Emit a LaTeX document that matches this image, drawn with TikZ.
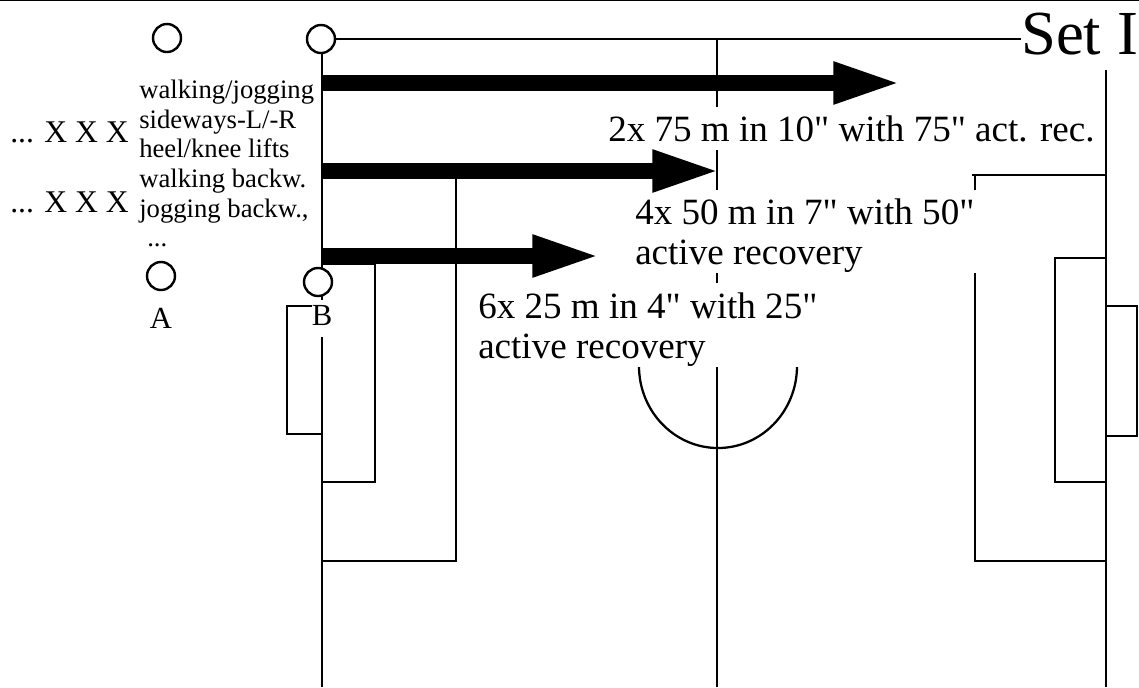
\documentclass[tikz,border=0pt]{standalone}
\usepackage{fontspec}
\setmainfont{Liberation Serif}[Ligatures=TeXOff]
\usetikzlibrary{arrows.meta}

\newcommand{\lift}[1]{\rule{0pt}{#1}}

\tikzset{
	pitch/.style={line width=1.7pt},
	cone/.style={draw, circle, line width=1.8pt, fill=white, minimum size=21pt, inner sep=0},
	run/.style={line width=12pt, -{Triangle[length=51.5pt, width=28.5pt]}},
	big/.style={fill=white, inner sep=0, align=left, anchor=north west, font=\fontsize{27.8}{30}\selectfont},
	small/.style={inner sep=0, align=left, anchor=north west, font=\fontsize{20}{22.2}\selectfont},
	rows/.style={inner sep=0, anchor=base west, font=\fontsize{23.7}{26}\selectfont}
}

\begin{document}
\begin{tikzpicture}[x=.75pt,y=-.75pt]
		\useasboundingbox (0,0) rectangle (1139,687);
		\draw [pitch] (0,0) -- (1139,0);

		% left half
		\begin{scope}
			\draw [pitch] (322,40) -- (322,687);
			\draw [pitch] (322,171) -| (456,561) -- (322,561);
			\draw [pitch] (322,264) -| (375,482) -- (322,482);
			\draw [pitch] (322,306) -| (287,434) -- (322,434);
		\end{scope}

		% centre line and right half
		\begin{scope}
			\draw [pitch] (717,40) -- (717,687);
			\draw [pitch] (639,366) arc [start angle=180, end angle=0, x radius=79, y radius=82];
			\draw [pitch] (1106,70) -- (1106,687);
			\draw [pitch] (1106,175) -- (972,175);
			\draw [pitch] (975,175) -- (975,561) -- (1106,561);
			\draw [pitch] (1106,258) -| (1055,482) -- (1106,482);
			\draw [pitch] (1106,306) -| (1137,436) -- (1106,436);
		\end{scope}

		% cones
		\node [cone] (cA1) at (167,38) {};
		\node [cone] (cB1) at (321,39) {};
		\node [cone] (cA2) at (161,276) {};
		\node [cone] (cB2) at (318,282) {};
		\node [inner sep=0, font=\fontsize{23}{25}\selectfont] (lA) at (161,318) {A};
		\node [fill=white, inner sep=0, anchor=base, minimum width=15pt, text height=18.75pt, text depth=9pt, font=\fontsize{23}{25}\selectfont] (lB) at (322,325) {B};

		\node [inner sep=0, anchor=base west, font=\fontsize{47}{50}\selectfont] (setI) at (1021,54) {Set I};
		\draw [pitch] (cB1) -- (setI.west |- cB1);

		% labels
		\node [big, minimum height=32pt] (t75) at (608,107) {2x 75 m in 10" with 75" act. rec.};
		\node [big, minimum height=62pt] (t50) at (635,190) {\lift{25.6pt}4x 50 m in 7" with 50"\rule{4pt}{0pt}\\active recovery};
		\node [big, minimum height=62pt] (t25) at (478,283) {\lift{26.5pt}6x 25 m in 4" with 25"\\active recovery};

		\node [rows] (r1) at (10,142) {... X X X};
		\node [rows] (r2) at (10,212) {... X X X};
		\node [small] (drills) at (139,80) {walking/jogging\\sideways-L/-R\\heel/knee lifts\\walking backw.\\jogging backw.,\\\hspace{6pt}...};

		% runs
		\coordinate (s75) at (322,83);
		\coordinate (e75) at (902,83);
		\coordinate (s50) at (322,171);
		\coordinate (e50) at (721,171);
		\coordinate (s25) at (322,256);
		\coordinate (e25) at (601,256);
		\draw [run] (s75) -- (e75);
		\draw [run] (s50) -- (e50);
		\draw [run] (s25) -- (e25);
\end{tikzpicture}
\end{document}
